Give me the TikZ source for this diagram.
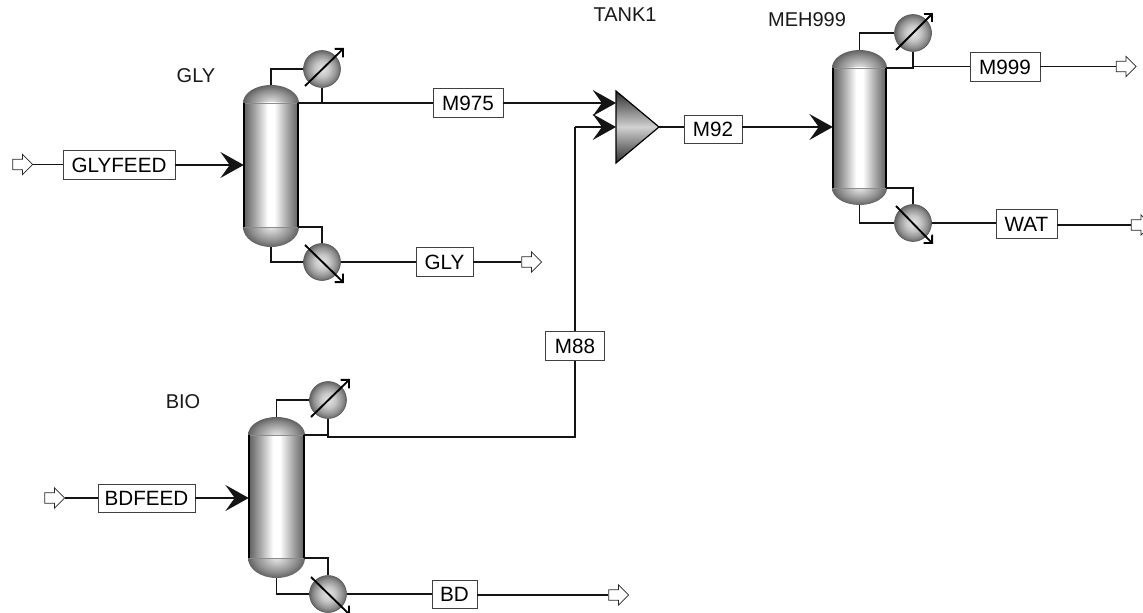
\documentclass[tikz,border=0pt]{standalone}
\usepackage{fontspec}
\setmainfont{Liberation Sans}
\usetikzlibrary{arrows.meta,calc,shapes.arrows}
\pgfdeclarehorizontalshading{colbody}{100bp}{color(0bp)=(black!62); color(25bp)=(black!62); color(35bp)=(black!35); color(47bp)=(white); color(53bp)=(white); color(65bp)=(black!35); color(75bp)=(black!62); color(100bp)=(black!62)}
\pgfdeclareradialshading{ballshade}{\pgfpointorigin}{color(0bp)=(black!10); color(10bp)=(black!22); color(19bp)=(black!42); color(25bp)=(black!60); color(33bp)=(black!70); color(50bp)=(black!70)}
\pgfdeclareradialshading{domeshade}{\pgfpointorigin}{color(0bp)=(black!10); color(8bp)=(black!25); color(18bp)=(black!45); color(25bp)=(black!62); color(50bp)=(black!62)}
\tikzset{
  x=0.75pt,y=-0.75pt,
  stream/.style={line width=1.15pt,draw=black!92},
  feedin/.style={stream,-{Stealth[length=17.5pt,width=19.5pt,inset=7pt]}},
  pipe/.style={line width=1.15pt,draw=black!92},
  lab/.style={draw=black!75,line width=0.7pt,fill=white,inner sep=0pt,minimum height=21.5pt,font=\fontsize{15.5}{18}\selectfont},
  name label/.style={inner sep=0pt,font=\fontsize{15}{18}\selectfont,text=black!90},
  hx/.style={circle,inner sep=0pt,minimum size=27.7pt,draw=black!65,line width=0.5pt,shading=ballshade},
  hxarrow/.style={line width=1.4pt,-{Straight Barb[length=4.5pt,width=9pt]}},
  term/.style={single arrow,draw=black!85,line width=0.55pt,fill=white,inner xsep=0pt,inner ysep=3.7pt,minimum height=15pt,minimum width=15pt,single arrow head extend=3.7pt,single arrow tip angle=90},
}
% name, x left, x right, top, dome base, body bottom, end
\newcommand{\columnvessel}[7]{%
  \begin{scope}
    \clip (#2-1,#4-1) rectangle (#3+1,#5);
    \shade[shading=domeshade] ({(#2+#3)/2},#5) ellipse [x radius={(#3-#2)/2+1},y radius={#5-#4}];
  \end{scope}
  \begin{scope}
    \clip (#2-1,#6) rectangle (#3+1,#7+1);
    \shade[shading=domeshade] ({(#2+#3)/2},#6) ellipse [x radius={(#3-#2)/2+1},y radius={#7-#6}];
  \end{scope}
  \shade[shading=colbody] (#2,#5) rectangle (#3,#6);
  \draw[black!45,line width=0.4pt] (#2,#5) -- (#3,#5) (#2,#6) -- (#3,#6);
  \draw[black,line width=1.4pt] (#2,#5) -- (#2,#6) (#3,#5) -- (#3,#6);
  \node[inner sep=0pt,minimum width={(#3-#2)*0.75pt},minimum height={(#7-#4)*0.75pt}] (#1) at ({(#2+#3)/2},{(#4+#7)/2}) {};
  \coordinate (#1-t) at (#3,#5);
  \coordinate (#1-b) at (#3,#6);
}
\begin{document}
\begin{tikzpicture}
\useasboundingbox (0,0) rectangle (1143,613);

% vessels
\columnvessel{gly}{244}{298}{85}{103}{227}{247}
\columnvessel{bio}{249}{304}{417}{435}{558}{578}
\columnvessel{meh}{833}{886}{50}{68}{188}{205}

% heat exchangers
\node[hx] (c1) at (322,69) {};
\node[hx] (r1) at (322,262) {};
\node[hx] (c2) at (328,400) {};
\node[hx] (r2) at (328,594) {};
\node[hx] (c3) at (913,33) {};
\node[hx] (r3) at (913,223) {};

% mixer
\coordinate (tank-in1) at (616,103);
\coordinate (tank-in2) at (616,127);
\coordinate (tank-out) at (659,127);
\shade[top color=black!82,bottom color=black!82,middle color=black!18] (616,91) -- (tank-out) -- (616,163) -- cycle;
\draw[black,line width=0.9pt,line join=miter] (616,91) -- (tank-out) -- (616,163) -- cycle;

% stream labels
\node[lab,minimum width=84pt] (glyfeed) at (119,165) {GLYFEED};
\node[lab,minimum width=52.5pt] (m975) at (468,103) {M975};
\node[lab,minimum width=42.7pt] (glylab) at (444.5,262) {GLY};
\node[lab,minimum width=43.5pt] (m92) at (713,129.5) {M92};
\node[lab,minimum width=52.5pt] (m999) at (1005,67) {M999};
\node[lab,minimum width=45.7pt] (wat) at (1026.5,224) {WAT};
\node[lab,minimum width=44pt] (m88) at (575,346) {M88};
\node[lab,minimum width=72.7pt] (bdfeed) at (146.5,498.5) {BDFEED};
\node[lab,minimum width=33.7pt] (bd) at (454.5,594.5) {BD};

% terminals
\node[term] (t1) at (20,164.5) {};
\node[term] (t2) at (529,262) {};
\node[term] (t3) at (52,498) {};
\node[term] (t4) at (616,595) {};
\node[term] (t5) at (1123.5,66.5) {};
\node[term] (t6) at (1138.5,225) {};

% vessel piping
\draw[pipe] (gly.north) |- (c1.west);
\draw[pipe] (c1.south) |- (gly-t);
\draw[pipe] (gly-b) -| (r1.north);
\draw[pipe] (gly.south) |- (r1.west);
\draw[pipe] (bio.north) |- (c2.west);
\draw[pipe] (c2.south) |- (bio-t);
\draw[pipe] (bio-b) -| (r2.north);
\draw[pipe] (bio.south) |- (r2.west);
\draw[pipe] (meh.north) |- (c3.west);
\draw[pipe] (c3.south) |- (meh-t);
\draw[pipe] (meh-b) -| (r3.north);
\draw[pipe] (meh.south) |- (r3.west);

% exchanger arrows
\draw[hxarrow] ($(c1)+(-17,17)$) -- ($(c1)+(22,-21)$);
\draw[hxarrow] ($(r1)+(-17,-17)$) -- ($(r1)+(22,21)$);
\draw[hxarrow] ($(c2)+(-17,17)$) -- ($(c2)+(22,-21)$);
\draw[hxarrow] ($(r2)+(-17,-17)$) -- ($(r2)+(22,21)$);
\draw[hxarrow] ($(c3)+(-17,17)$) -- ($(c3)+(20,-20)$);
\draw[hxarrow] ($(r3)+(-17,-17)$) -- ($(r3)+(20,21)$);

% streams
\draw[stream] (t1.tip) -- (t1.tip -| glyfeed.west);
\draw[feedin] (glyfeed.east) -- (glyfeed.east -| gly.west);
\draw[stream] (gly-t) -- (m975.west);
\draw[feedin] (m975.east) -- (tank-in1);
\draw[stream] (r1.east) -- (glylab.west);
\draw[stream] (glylab.east) -- (t2.tail);
\draw[stream] (t3.tip) -- (t3.tip -| bdfeed.west);
\draw[feedin] (t3.tip -| bdfeed.east) -- (t3.tip -| bio.west);
\draw[stream] (bio-t -| c2.south) -- ++(0,2) -| (m88.south);
\draw[stream] (m88.north) -- (m88.north |- tank-in2);
\draw[feedin] (m88.north |- tank-in2) -- (tank-in2);
\draw[stream] (tank-out) -- (tank-out -| m92.west);
\draw[feedin] (tank-out -| m92.east) -- (tank-out -| meh.west);
\draw[stream] (meh-t -| c3.south) -- (t5.tail -| c3.south) -- (t5.tail -| m999.west);
\draw[stream] (t5.tail -| m999.east) -- (t5.tail);
\draw[stream] (r3.east) -- (r3.east -| wat.west);
\draw[stream] (t6.tail -| wat.east) -- (t6.tail);
\draw[stream] (r2.east) -- (r2.east -| bd.west);
\draw[stream] (t4.tail -| bd.east) -- (t4.tail);

% block names
\node[name label] (n1) at (196,76) {GLY};
\node[name label] (n2) at (183,402) {BIO};
\node[name label] (n3) at (625,15) {TANK1};
\node[name label] (n4) at (807,20) {MEH999};
\end{tikzpicture}
\end{document}
